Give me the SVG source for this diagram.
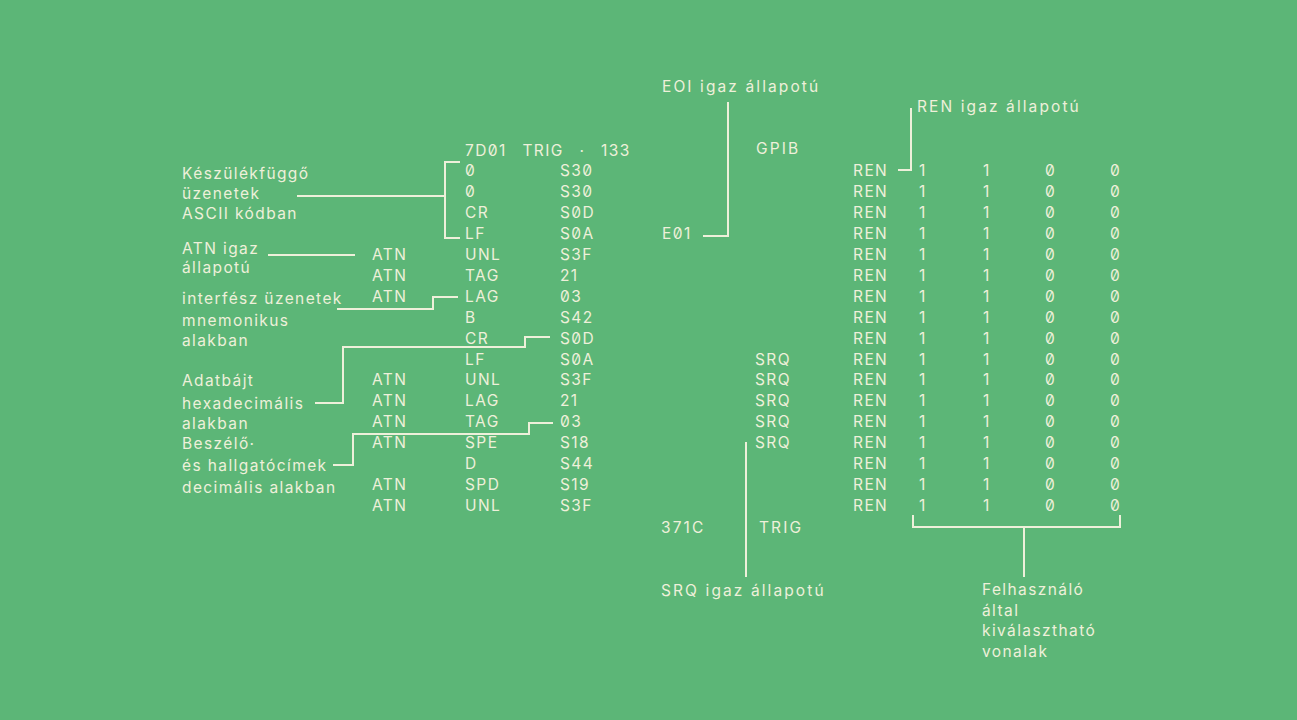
<svg xmlns="http://www.w3.org/2000/svg" width="1297" height="720" viewBox="0 0 1297 720">
<style>
text{font-family:Inter,"Liberation Sans",sans-serif;font-size:15.5px;letter-spacing:1.4px;fill:#eef0da;font-feature-settings:"zero" 1;}
.w{letter-spacing:2.1px;}
.ln{fill:none;stroke:#eef0da;stroke-width:2;}
</style>
<rect width="1297" height="720" fill="#5cb677"/>
<g id="labels-left">
<text x="182" y="178.5">Készülékfüggő</text>
<text x="182" y="198.5">üzenetek</text>
<text x="182" y="218.5">ASCII kódban</text>
<text x="182" y="253.5">ATN igaz</text>
<text x="182" y="272.5">állapotú</text>
<text x="182" y="303.5">interfész üzenetek</text>
<text x="182" y="325.5">mnemonikus</text>
<text x="182" y="345.5">alakban</text>
<text x="182" y="385.5">Adatbájt</text>
<text x="182" y="408.5">hexadecimális</text>
<text x="182" y="428.5">alakban</text>
<text x="182" y="448.5">Beszélő·</text>
<text x="182" y="470.5">és hallgatócímek</text>
<text x="182" y="492.5">decimális alakban</text>
</g>
<g id="table-left">
<text x="465" y="155.5" word-spacing="10">7D01 TRIG · 133</text>
<text x="465" y="176.4">0</text><text x="560" y="176.4">S30</text>
<text x="465" y="197.3">0</text><text x="560" y="197.3">S30</text>
<text x="465" y="218.2">CR</text><text x="560" y="218.2">S0D</text>
<text x="465" y="239.1">LF</text><text x="560" y="239.1">S0A</text>
<text x="372" y="260">ATN</text><text x="465" y="260">UNL</text><text x="560" y="260">S3F</text>
<text x="372" y="280.9">ATN</text><text x="465" y="280.9">TAG</text><text x="560" y="280.9">21</text>
<text x="372" y="301.8">ATN</text><text x="465" y="301.8">LAG</text><text x="560" y="301.8">03</text>
<text x="465" y="322.7">B</text><text x="560" y="322.7">S42</text>
<text x="465" y="343.6">CR</text><text x="560" y="343.6">S0D</text>
<text x="465" y="364.5">LF</text><text x="560" y="364.5">S0A</text>
<text x="372" y="385.4">ATN</text><text x="465" y="385.4">UNL</text><text x="560" y="385.4">S3F</text>
<text x="372" y="406.3">ATN</text><text x="465" y="406.3">LAG</text><text x="560" y="406.3">21</text>
<text x="372" y="427.2">ATN</text><text x="465" y="427.2">TAG</text><text x="560" y="427.2">03</text>
<text x="372" y="448.1">ATN</text><text x="465" y="448.1">SPE</text><text x="560" y="448.1">S18</text>
<text x="465" y="469">D</text><text x="560" y="469">S44</text>
<text x="372" y="489.9">ATN</text><text x="465" y="489.9">SPD</text><text x="560" y="489.9">S19</text>
<text x="372" y="510.8">ATN</text><text x="465" y="510.8">UNL</text><text x="560" y="510.8">S3F</text>
</g>
<g id="gpib-labels">
<text class="w" x="662" y="91.5">EOI igaz állapotú</text>
<text class="w" x="756" y="153.5">GPIB</text>
<text x="662" y="239.1">E01</text>
<text class="w" x="917" y="111.5">REN igaz állapotú</text>
<text class="w" x="661" y="532.5">371C</text>
<text class="w" x="759" y="532.5">TRIG</text>
<text class="w" x="661" y="595.5">SRQ igaz állapotú</text>
<text x="982" y="595">Felhasználó</text>
<text x="982" y="615.5">által</text>
<text x="982" y="636">kiválasztható</text>
<text x="982" y="656.5">vonalak</text>
</g>
<g id="srq-column">
<text x="755" y="364.5">SRQ</text>
<text x="755" y="385.4">SRQ</text>
<text x="755" y="406.3">SRQ</text>
<text x="755" y="427.2">SRQ</text>
<text x="755" y="448.1">SRQ</text>
</g>
<g id="ren-table">
<text x="853" y="176.4">REN</text><text x="919" y="176.4">1</text><text x="983" y="176.4">1</text><text x="1045" y="176.4">0</text><text x="1110" y="176.4">0</text>
<text x="853" y="197.3">REN</text><text x="919" y="197.3">1</text><text x="983" y="197.3">1</text><text x="1045" y="197.3">0</text><text x="1110" y="197.3">0</text>
<text x="853" y="218.2">REN</text><text x="919" y="218.2">1</text><text x="983" y="218.2">1</text><text x="1045" y="218.2">0</text><text x="1110" y="218.2">0</text>
<text x="853" y="239.1">REN</text><text x="919" y="239.1">1</text><text x="983" y="239.1">1</text><text x="1045" y="239.1">0</text><text x="1110" y="239.1">0</text>
<text x="853" y="260">REN</text><text x="919" y="260">1</text><text x="983" y="260">1</text><text x="1045" y="260">0</text><text x="1110" y="260">0</text>
<text x="853" y="280.9">REN</text><text x="919" y="280.9">1</text><text x="983" y="280.9">1</text><text x="1045" y="280.9">0</text><text x="1110" y="280.9">0</text>
<text x="853" y="301.8">REN</text><text x="919" y="301.8">1</text><text x="983" y="301.8">1</text><text x="1045" y="301.8">0</text><text x="1110" y="301.8">0</text>
<text x="853" y="322.7">REN</text><text x="919" y="322.7">1</text><text x="983" y="322.7">1</text><text x="1045" y="322.7">0</text><text x="1110" y="322.7">0</text>
<text x="853" y="343.6">REN</text><text x="919" y="343.6">1</text><text x="983" y="343.6">1</text><text x="1045" y="343.6">0</text><text x="1110" y="343.6">0</text>
<text x="853" y="364.5">REN</text><text x="919" y="364.5">1</text><text x="983" y="364.5">1</text><text x="1045" y="364.5">0</text><text x="1110" y="364.5">0</text>
<text x="853" y="385.4">REN</text><text x="919" y="385.4">1</text><text x="983" y="385.4">1</text><text x="1045" y="385.4">0</text><text x="1110" y="385.4">0</text>
<text x="853" y="406.3">REN</text><text x="919" y="406.3">1</text><text x="983" y="406.3">1</text><text x="1045" y="406.3">0</text><text x="1110" y="406.3">0</text>
<text x="853" y="427.2">REN</text><text x="919" y="427.2">1</text><text x="983" y="427.2">1</text><text x="1045" y="427.2">0</text><text x="1110" y="427.2">0</text>
<text x="853" y="448.1">REN</text><text x="919" y="448.1">1</text><text x="983" y="448.1">1</text><text x="1045" y="448.1">0</text><text x="1110" y="448.1">0</text>
<text x="853" y="469">REN</text><text x="919" y="469">1</text><text x="983" y="469">1</text><text x="1045" y="469">0</text><text x="1110" y="469">0</text>
<text x="853" y="489.9">REN</text><text x="919" y="489.9">1</text><text x="983" y="489.9">1</text><text x="1045" y="489.9">0</text><text x="1110" y="489.9">0</text>
<text x="853" y="510.8">REN</text><text x="919" y="510.8">1</text><text x="983" y="510.8">1</text><text x="1045" y="510.8">0</text><text x="1110" y="510.8">0</text>
</g>
<g id="connectors">
<path class="ln" d="M460,162 H445 V238 H460"/>
<path class="ln" d="M297,196 H445"/>
<path class="ln" d="M268,255 H355"/>
<path class="ln" d="M337,309 H433 V297 H458"/>
<path class="ln" d="M315,403 H343 V347 H525 V337 H550"/>
<path class="ln" d="M333,465 H353 V434 H529 V423 H553"/>
<path class="ln" d="M728,102 V236 H703"/>
<path class="ln" d="M898,170 H911 V108"/>
<path class="ln" d="M746,442 V577"/>
<path class="ln" d="M913,515 V527 H1120 V515"/>
<path class="ln" d="M1024,527 V577"/>
</g>
</svg>
